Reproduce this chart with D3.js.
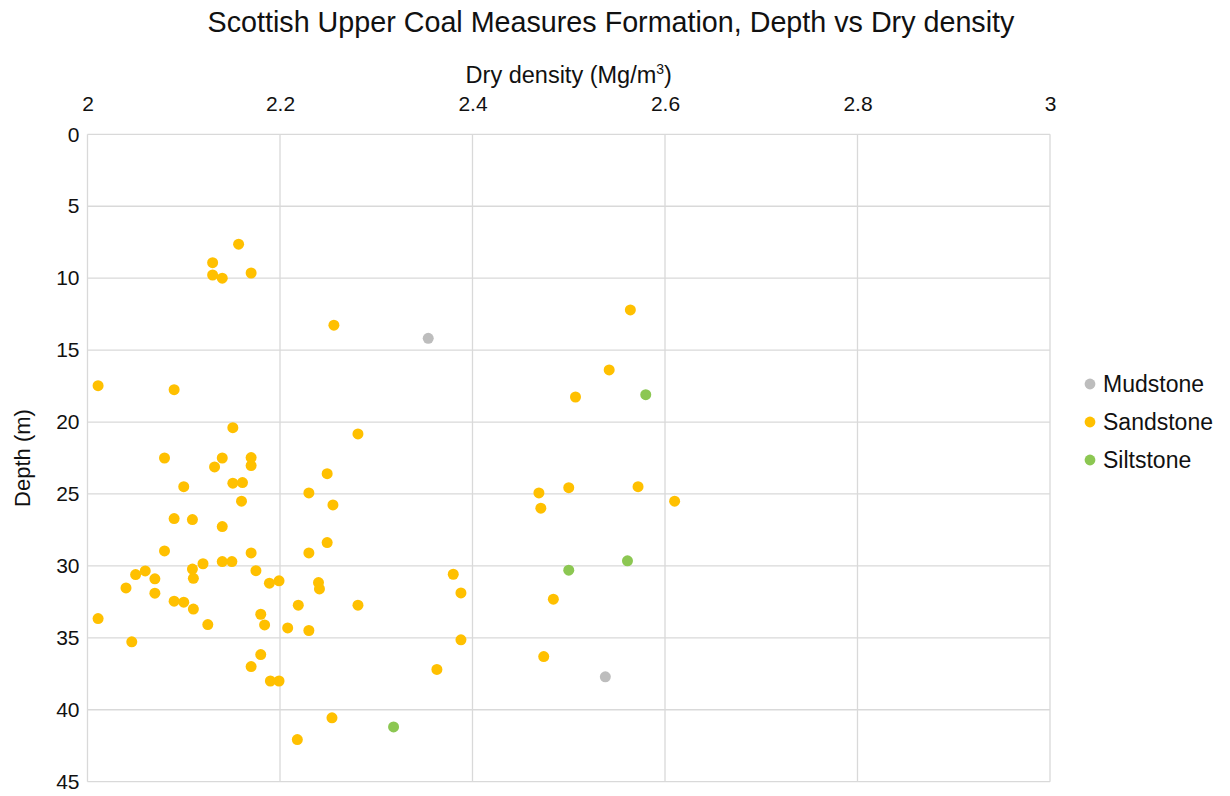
<!DOCTYPE html>
<html>
<head>
<meta charset="utf-8">
<script src="https://cdn.jsdelivr.net/npm/d3@7"></script>
<style>
  body { margin: 0; background: #fff; }
  svg { display: block; font-family: "Liberation Sans", Arial, sans-serif; }
</style>
</head>
<body>
<svg id="chart" width="1230" height="796"></svg>
<script>
// ---- Data ----
const seriesNames = ["Mudstone", "Sandstone", "Siltstone"];
const seriesColors = ["#BDBDBD", "#FFC000", "#8CC752"];

const mudstoneDensity = [2.354, 2.538];
const mudstoneDepth   = [14.18, 37.71];

const siltstoneDensity = [2.580, 2.500, 2.561, 2.318];
const siltstoneDepth   = [18.10, 30.30, 29.65, 41.19];

const sandstoneDensity = [
  2.157, 2.130, 2.130, 2.140, 2.170, 2.256, 2.564, 2.542, 2.507, 2.011,
  2.090, 2.151, 2.281, 2.080, 2.140, 2.132, 2.170, 2.170, 2.249, 2.100,
  2.151, 2.161, 2.160, 2.230, 2.255, 2.090, 2.109, 2.140, 2.249, 2.080,
  2.170, 2.230, 2.140, 2.150, 2.120, 2.109, 2.380, 2.110, 2.060, 2.050,
  2.070, 2.040, 2.070, 2.090, 2.100, 2.110, 2.125, 2.011, 2.046, 2.175,
  2.189, 2.199, 2.240, 2.241, 2.219, 2.281, 2.180, 2.184, 2.208, 2.230,
  2.180, 2.170, 2.190, 2.199, 2.254, 2.218, 2.363, 2.388, 2.388, 2.469,
  2.500, 2.572, 2.610, 2.471, 2.484, 2.474
];
const sandstoneDepth = [
  7.64, 8.92, 9.78, 10.00, 9.64, 13.27, 12.21, 16.38, 18.26, 17.47,
  17.75, 20.39, 20.83, 22.50, 22.50, 23.12, 22.47, 23.03, 23.59, 24.49,
  24.25, 24.21, 25.50, 24.93, 25.76, 26.71, 26.78, 27.27, 28.38, 28.96,
  29.10, 29.10, 29.70, 29.70, 29.85, 30.22, 30.58, 30.86, 30.35, 30.60,
  30.90, 31.53, 31.90, 32.45, 32.52, 33.00, 34.08, 33.66, 35.28, 30.33,
  31.20, 31.04, 31.16, 31.60, 32.73, 32.73, 33.36, 34.10, 34.31, 34.49,
  36.16, 37.00, 38.00, 38.00, 40.56, 42.07, 37.20, 31.88, 35.14, 24.93,
  24.56, 24.49, 25.50, 25.99, 32.31, 36.30
];

const xTicks = [2, 2.2, 2.4, 2.6, 2.8, 3];
const yTicks = [0, 5, 10, 15, 20, 25, 30, 35, 40, 45];

const titleText = "Scottish Upper Coal Measures Formation, Depth vs Dry density";
const xTitle = "Dry density (Mg/m";
const yTitle = "Depth (m)";

// ---- Layout ----
const svg = d3.select("#chart");
const plot = { left: 87.5, right: 1050, top: 134.3, bottom: 781.7 };

const x = d3.scaleLinear().domain([2, 3]).range([plot.left, plot.right]);
const y = d3.scaleLinear().domain([0, 45]).range([plot.top, plot.bottom]);

const gridColor = "#D9D9D9";
const textColor = "#111";

// gridlines
svg.append("g").selectAll("line.v").data(xTicks).join("line")
  .attr("x1", d => x(d)).attr("x2", d => x(d))
  .attr("y1", plot.top).attr("y2", plot.bottom)
  .attr("stroke", gridColor).attr("stroke-width", 1.3);
svg.append("g").selectAll("line.h").data(yTicks).join("line")
  .attr("x1", plot.left).attr("x2", plot.right)
  .attr("y1", d => y(d)).attr("y2", d => y(d))
  .attr("stroke", gridColor).attr("stroke-width", 1.3);

// x axis on top (labels only)
const xAxis = d3.axisTop(x).tickValues(xTicks).tickSize(0).tickPadding(0)
  .tickFormat(d3.format("~g"));
const gx = svg.append("g").attr("transform", `translate(0,${plot.top - 23})`).call(xAxis);
gx.select(".domain").remove();
gx.selectAll("text").attr("font-size", 21).attr("fill", textColor)
  .attr("font-family", "Liberation Sans, Arial, sans-serif").attr("dy", 0);

// y axis (labels only)
const yAxis = d3.axisLeft(y).tickValues(yTicks).tickSize(0).tickPadding(8)
  .tickFormat(d3.format("~g"));
const gy = svg.append("g").attr("transform", `translate(${plot.left},0)`).call(yAxis);
gy.select(".domain").remove();
gy.selectAll("text").attr("font-size", 21).attr("fill", textColor)
  .attr("font-family", "Liberation Sans, Arial, sans-serif");

// points
const series = [
  { name: seriesNames[0], color: seriesColors[0], xs: mudstoneDensity, ys: mudstoneDepth },
  { name: seriesNames[1], color: seriesColors[1], xs: sandstoneDensity, ys: sandstoneDepth },
  { name: seriesNames[2], color: seriesColors[2], xs: siltstoneDensity, ys: siltstoneDepth }
];
series.forEach(s => {
  const pts = s.xs.map((v, i) => ({ x: v, y: s.ys[i] }));
  svg.append("g").selectAll("circle").data(pts).join("circle")
    .attr("cx", d => x(d.x)).attr("cy", d => y(d.y))
    .attr("r", 5.5).attr("fill", s.color);
});

// title
svg.append("text").attr("x", 611).attr("y", 32).attr("text-anchor", "middle")
  .attr("font-size", 28.7).attr("fill", textColor).text(titleText);

// x title with superscript
const xt = svg.append("text").attr("x", (plot.left + plot.right) / 2).attr("y", 83)
  .attr("text-anchor", "middle").attr("font-size", 23.5).attr("fill", textColor);
xt.append("tspan").text(xTitle);
xt.append("tspan").attr("font-size", 14).attr("dy", -9).text("3");
xt.append("tspan").attr("dy", 9).text(")");

// y title
svg.append("text").attr("transform", `translate(30,${(plot.top + plot.bottom) / 2}) rotate(-90)`)
  .attr("text-anchor", "middle").attr("font-size", 22).attr("fill", textColor).text(yTitle);

// legend
const lg = svg.append("g");
series.forEach((s, i) => {
  const cy = 384 + i * 38;
  lg.append("circle").attr("cx", 1090).attr("cy", cy).attr("r", 5.4).attr("fill", s.color);
  lg.append("text").attr("x", 1103).attr("y", cy + 8).attr("font-size", 23)
    .attr("fill", textColor).text(s.name);
});
</script>
</body>
</html>
